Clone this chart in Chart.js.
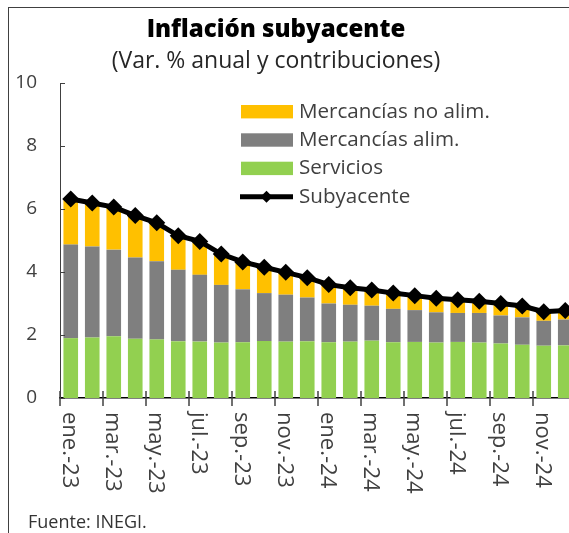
<!DOCTYPE html>
<html>
<head>
<meta charset="utf-8">
<script src="https://cdn.jsdelivr.net/npm/chart.js@4.4.1/dist/chart.umd.min.js"></script>
<style>
  html, body { margin: 0; padding: 0; background: #fff; overflow: hidden; }
  #marco { position: absolute; left: 8px; top: 7px; width: 700px; height: 700px; border: 1.5px solid #404040; }
  #caja { position: absolute; left: 0; top: 0; width: 600px; height: 533px; }
</style>
</head>
<body>
<div id="marco"></div>
<div id="caja"><canvas id="grafica"></canvas></div>
<script>
// Meses (ene-2023 a dic-2024)
const meses = ['ene.-23', 'feb.-23', 'mar.-23', 'abr.-23', 'may.-23', 'jun.-23',
  'jul.-23', 'ago.-23', 'sep.-23', 'oct.-23', 'nov.-23', 'dic.-23',
  'ene.-24', 'feb.-24', 'mar.-24', 'abr.-24', 'may.-24', 'jun.-24',
  'jul.-24', 'ago.-24', 'sep.-24', 'oct.-24', 'nov.-24', 'dic.-24'];

// Contribuciones (pp)
const servicios = [1.90, 1.92, 1.96, 1.88, 1.86, 1.80, 1.79, 1.76, 1.77, 1.81, 1.79, 1.80,
  1.77, 1.79, 1.82, 1.77, 1.78, 1.76, 1.78, 1.76, 1.73, 1.69, 1.66, 1.67];
const mercAlim = [2.97, 2.89, 2.75, 2.58, 2.48, 2.27, 2.12, 1.83, 1.68, 1.52, 1.49, 1.39,
  1.23, 1.17, 1.11, 1.06, 1.01, 0.96, 0.92, 0.94, 0.89, 0.87, 0.79, 0.82];
const mercNoAlim = [1.45, 1.38, 1.35, 1.33, 1.22, 1.08, 1.06, 0.98, 0.87, 0.82, 0.71, 0.63,
  0.60, 0.54, 0.50, 0.50, 0.46, 0.45, 0.42, 0.37, 0.38, 0.36, 0.29, 0.29];
// Inflación subyacente (var. % anual)
const subyacente = [6.32, 6.19, 6.06, 5.79, 5.56, 5.15, 4.97, 4.57, 4.32, 4.15, 3.99, 3.82,
  3.60, 3.50, 3.43, 3.33, 3.25, 3.17, 3.12, 3.07, 3.00, 2.92, 2.74, 2.78];

const ticksY = [0, 2, 4, 6, 8, 10];

const titulo = 'Inflación subyacente';
const subtitulo = '(Var. % anual y contribuciones)';
const fuente = 'Fuente: INEGI.';

const colorNoAlim = '#FFC000';
const colorAlim = '#7F7F7F';
const colorServ = '#92D050';

// Dibuja títulos, marcas de ejes, etiquetas rotadas y leyenda
const extras = {
  id: 'extras',
  afterDraw(chart) {
    const ctx = chart.ctx;
    const ejeX = chart.scales.x;
    const ejeY = chart.scales.y;
    const area = chart.chartArea;
    ctx.save();

    ctx.textAlign = 'center';
    ctx.textBaseline = 'alphabetic';
    ctx.fillStyle = '#000';
    ctx.font = '900 24px "Open Sans"';
    ctx.fillText(titulo, 276, 37);
    ctx.fillStyle = '#262626';
    ctx.font = '23px "Open Sans"';
    ctx.fillText(subtitulo, 276, 68);

    // marcas del eje y, hacia dentro
    ctx.strokeStyle = '#404040';
    ctx.lineWidth = 1;
    ticksY.forEach(v => {
      const py = Math.round(ejeY.getPixelForValue(v)) + 0.5;
      ctx.beginPath();
      ctx.moveTo(area.left, py);
      ctx.lineTo(area.left + 5, py);
      ctx.stroke();
    });

    // marcas del eje x cada dos meses (cruzan el eje)
    const ancho = ejeX.getPixelForValue(1) - ejeX.getPixelForValue(0);
    ctx.lineWidth = 1.5;
    for (let i = 0; i < meses.length; i += 2) {
      const px = ejeX.getPixelForValue(i) - ancho / 2;
      ctx.beginPath();
      ctx.moveTo(px, area.bottom - 7);
      ctx.lineTo(px, area.bottom + 8);
      ctx.stroke();
    }

    // etiquetas del eje x giradas 90° (se leen de arriba abajo)
    ctx.fillStyle = '#404040';
    ctx.font = '22px "Open Sans"';
    ctx.textAlign = 'left';
    ctx.textBaseline = 'middle';
    for (let i = 0; i < meses.length; i += 2) {
      ctx.save();
      ctx.translate(ejeX.getPixelForValue(i) - 1.5, area.bottom + 14);
      ctx.rotate(Math.PI / 2);
      ctx.fillText(meses[i], 0, 0);
      ctx.restore();
    }

    // leyenda
    const filas = [111.7, 140, 168.4, 196.7];
    const ds = chart.data.datasets;
    const orden = [2, 1, 0, 3];
    ctx.font = '20.6px "Open Sans"';
    orden.forEach((k, j) => {
      const yy = filas[j];
      if (ds[k].type === 'line') {
        ctx.strokeStyle = '#000';
        ctx.lineWidth = 5;
        ctx.beginPath();
        ctx.moveTo(240, yy);
        ctx.lineTo(293, yy);
        ctx.stroke();
        ctx.fillStyle = '#000';
        ctx.beginPath();
        ctx.moveTo(266.5, yy - 6);
        ctx.lineTo(272.5, yy);
        ctx.lineTo(266.5, yy + 6);
        ctx.lineTo(260.5, yy);
        ctx.closePath();
        ctx.fill();
      } else {
        ctx.fillStyle = ds[k].backgroundColor;
        ctx.fillRect(241, yy - 6.7, 52, 13.4);
      }
      ctx.fillStyle = '#404040';
      ctx.fillText(ds[k].label, 299, yy);
    });

    // fuente
    ctx.fillStyle = '#333';
    ctx.font = '18px "Open Sans"';
    ctx.textBaseline = 'alphabetic';
    ctx.fillText(fuente, 28, 528);

    ctx.restore();
  }
};

const datos = {
  labels: meses,
  datasets: [
    { label: 'Servicios', data: servicios, backgroundColor: colorServ, order: 1 },
    { label: 'Mercancías alim.', data: mercAlim, backgroundColor: colorAlim, order: 1 },
    { label: 'Mercancías no alim.', data: mercNoAlim, backgroundColor: colorNoAlim, order: 1 },
    {
      type: 'line', label: 'Subyacente', data: subyacente, stack: 'linea',
      borderColor: '#000', backgroundColor: '#000', borderWidth: 5,
      pointStyle: 'rectRot', pointRadius: 8.5, pointBackgroundColor: '#000',
      pointBorderWidth: 0, tension: 0, order: 0
    }
  ]
};

const config = {
  type: 'bar',
  data: datos,
  options: {
    responsive: true,
    maintainAspectRatio: false,
    devicePixelRatio: 1,
    animation: false,
    layout: { padding: { left: 15, right: 24, top: 83, bottom: 0 } },
    datasets: { bar: { barPercentage: 0.68, categoryPercentage: 1 } },
    plugins: { legend: { display: false }, tooltip: { enabled: false } },
    scales: {
      x: {
        stacked: true,
        grid: { display: false },
        ticks: { display: false },
        border: { display: true, color: '#000', width: 1.5 },
        afterFit(scale) { scale.height = 135; }
      },
      y: {
        stacked: true,
        min: 0,
        max: 10,
        afterBuildTicks(scale) { scale.ticks = ticksY.map(v => ({ value: v })); },
        ticks: { color: '#404040', font: { family: 'Open Sans', size: 19 }, padding: 23 },
        grid: { display: false, drawTicks: false },
        border: { display: true, color: '#404040', width: 1 },
        afterFit(scale) { scale.width = 45; }
      }
    }
  },
  plugins: [extras]
};

const grafica = new Chart(document.getElementById('grafica'), config);
</script>
</body>
</html>
